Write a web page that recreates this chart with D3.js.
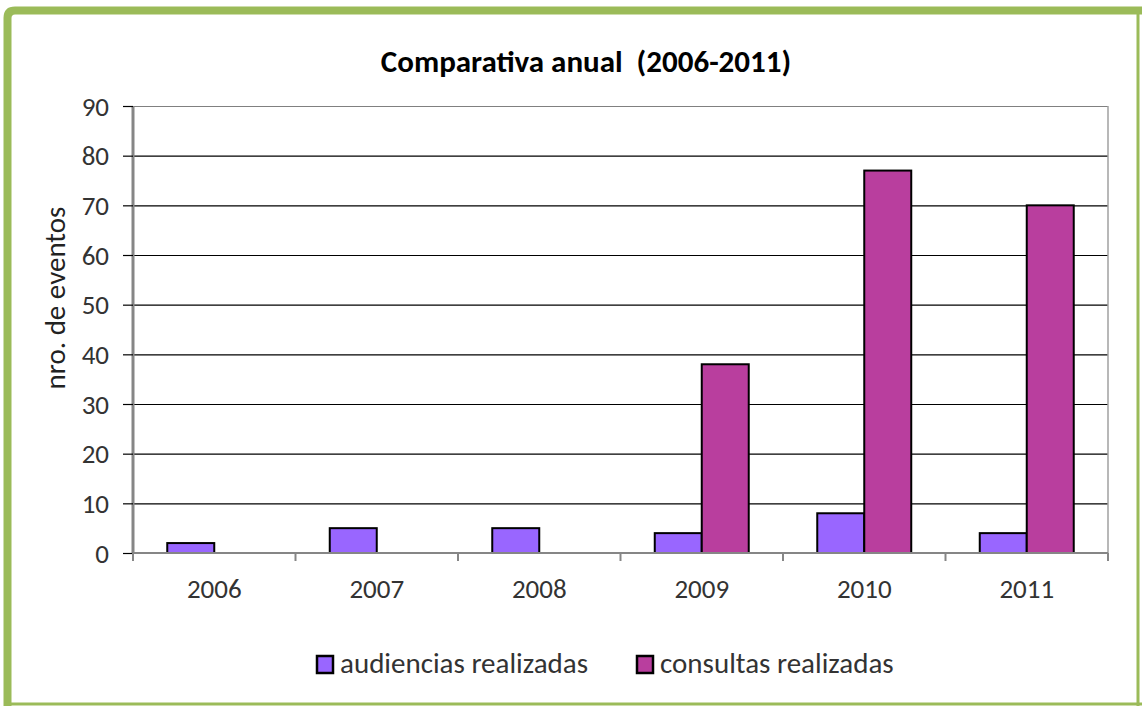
<!DOCTYPE html>
<html>
    <head>
        <title>Comparativa anual</title>
        <style>
            body { margin: 0; background: #fff; }
            svg, svg text { font-family: Carlito, Lato, "Liberation Sans", sans-serif; }
            .tick text { fill: #333; }
        </style>
        <script src="https://cdnjs.cloudflare.com/ajax/libs/d3/7.8.5/d3.min.js"></script>
    </head>
    <body>
        <div id="chart"></div>
        <script>
            const years = ["2006", "2007", "2008", "2009", "2010", "2011"];
            const seriesNames = ["audiencias realizadas", "consultas realizadas"];
            const audiencias = [2, 5, 5, 4, 8, 4];
            const consultas = [0, 0, 0, 38, 77, 70];
            const colors = ["#9966ff", "#b93e9e"];
            const yTicks = [0, 10, 20, 30, 40, 50, 60, 70, 80, 90];

            const w = 1142, h = 706;
            const pLeft = 133, pRight = 1108, pTop = 106, pBottom = 553;

            const svg = d3.select("#chart").append("svg")
                .attr("width", w)
                .attr("height", h)
                .style("display", "block");

            // green frame
            svg.append("path")
                .attr("d", "M7.5,706 L7.5,18 Q7.5,10.5 15,10.5 L1142,10.5")
                .attr("fill", "none").attr("stroke", "#9bbb59").attr("stroke-width", 8);
            svg.append("line").attr("x1", 1138).attr("x2", 1138).attr("y1", 10).attr("y2", 706)
                .attr("stroke", "#9bbb59").attr("stroke-width", 3);
            svg.append("line").attr("x1", 4).attr("x2", 1142).attr("y1", 704).attr("y2", 704)
                .attr("stroke", "#9bbb59").attr("stroke-width", 3);

            const x = d3.scaleBand().domain(years).range([pLeft, pRight]).paddingInner(0);
            const xs = d3.scaleBand().domain(seriesNames).range([0, x.bandwidth()]).paddingInner(0).paddingOuter(0.729);
            const y = d3.scaleLinear().domain([0, 90]).range([pBottom, pTop]);

            // gridlines
            svg.append("g").selectAll("line").data(yTicks.slice(1)).join("line")
                .attr("x1", pLeft).attr("x2", pRight)
                .attr("y1", d => y(d) + 0.5).attr("y2", d => y(d) + 0.5)
                .attr("stroke", d => d === 90 ? "#808080" : "#000").attr("stroke-width", 1.2);

            // plot right border
            svg.append("line").attr("x1", pRight).attr("x2", pRight).attr("y1", pTop).attr("y2", pBottom)
                .attr("stroke", "#a0a0a0").attr("stroke-width", 1.5);

            // bars
            const rows = years.map((yr, i) => ({ year: yr, values: [audiencias[i], consultas[i]] }));
            svg.append("g").selectAll("g").data(rows).join("g")
                .attr("transform", d => `translate(${x(d.year)},0)`)
                .selectAll("rect")
                .data(d => d.values.map((v, j) => ({ name: seriesNames[j], value: v, c: colors[j] })).filter(e => e.value > 0))
                .join("rect")
                .attr("x", d => xs(d.name))
                .attr("width", xs.bandwidth())
                .attr("y", d => y(d.value))
                .attr("height", d => y(0) - y(d.value))
                .attr("fill", d => d.c)
                .attr("stroke", "#000")
                .attr("stroke-width", 2);

            // y axis
            const yAxis = svg.append("g").attr("transform", `translate(${pLeft},0)`)
                .call(d3.axisLeft(y).tickValues(yTicks).tickSize(10).tickPadding(14));
            yAxis.attr("font-family", null);
            yAxis.select(".domain").attr("stroke", "#868686").attr("stroke-width", 3).attr("d", `M0,${pTop}V${pBottom}`);
            yAxis.selectAll(".tick line").attr("stroke", "#000").attr("stroke-width", 1.2);
            yAxis.selectAll(".tick text").attr("font-size", 27).attr("dy", "0.34em");

            // x axis
            const xAxis = svg.append("g").attr("transform", `translate(0,${pBottom})`)
                .call(d3.axisBottom(x).tickSize(0).tickPadding(26));
            xAxis.attr("font-family", null);
            xAxis.select(".domain").attr("stroke", "#868686").attr("stroke-width", 2).attr("d", `M${pLeft},0H${pRight}`);
            xAxis.selectAll(".tick text").attr("font-size", 27);
            svg.append("g").selectAll("line").data(years.concat(["end"])).join("line")
                .attr("x1", (d, i) => pLeft + i * x.step()).attr("x2", (d, i) => pLeft + i * x.step())
                .attr("y1", pBottom).attr("y2", pBottom + 8)
                .attr("stroke", "#868686").attr("stroke-width", 2);

            // title
            svg.append("text").attr("x", 586).attr("y", 72).attr("text-anchor", "middle")
                .attr("font-size", 31).attr("font-weight", "bold").attr("fill", "#000")
                .style("white-space", "pre")
                .text("Comparativa anual  (2006-2011)");

            // y label
            svg.append("text").attr("transform", "translate(65,298) rotate(-90)")
                .attr("text-anchor", "middle").attr("font-size", 29).attr("fill", "#222")
                .text("nro. de eventos");

            // legend
            const lx = [317, 637];
            const legend = svg.append("g").selectAll("g").data(seriesNames).join("g")
                .attr("transform", (d, i) => `translate(${lx[i]},656)`);
            legend.append("rect").attr("width", 16).attr("height", 17)
                .attr("fill", (d, i) => colors[i]).attr("stroke", "#000").attr("stroke-width", 2.5);
            legend.append("text").attr("x", 23).attr("y", 17).attr("font-size", 29).attr("fill", "#333")
                .text(d => d);
        </script>
    </body>
</html>
